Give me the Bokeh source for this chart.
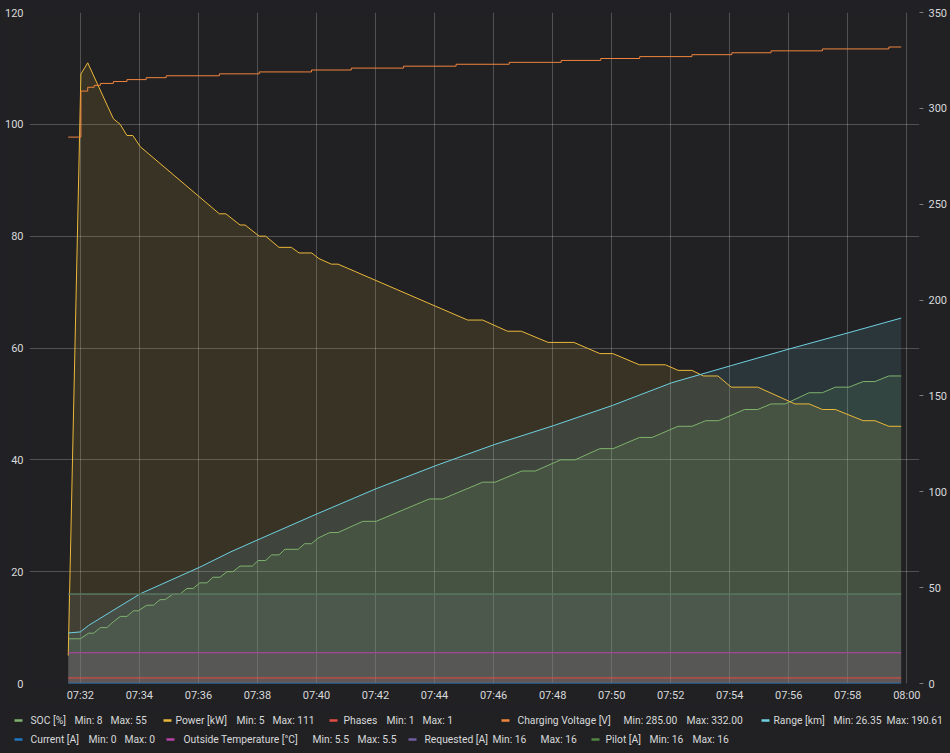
from bokeh.plotting import figure
from bokeh.models import Range1d, LinearAxis, FixedTicker
from bokeh.embed import file_html
from bokeh.resources import INLINE
from bokeh.core.properties import value

# ---------------- data (time = minutes after 07:30) ----------------
POWER_T = [1.59, 2.02, 2.25, 3.12, 3.35, 3.58, 3.78, 4.03, 6.71, 6.93, 7.41, 7.58, 8.06, 8.28, 8.73,
           9.15, 9.41, 9.84, 10.08, 10.50, 10.73, 15.12, 15.63, 16.47, 16.94, 17.85, 18.72, 19.60, 20.04,
           20.94, 21.82, 22.25, 22.72, 23.11, 23.60, 24.05, 24.95, 26.21, 26.69, 27.14, 27.58, 28.52,
           28.92, 29.39, 29.81]
POWER_KW = [5, 109, 111, 101, 100, 98, 98, 96, 84, 84, 82, 82, 80, 80, 78,
            78, 77, 77, 76, 75, 75, 65, 65, 63, 63, 61, 61, 59, 59,
            57, 57, 56, 56, 55, 55, 53, 53, 50, 50, 49, 49, 47,
            47, 46, 46]

SOC_T = [1.59, 2.00, 2.28, 2.45, 2.68, 2.90, 3.11, 3.35, 3.58, 3.80, 3.96, 4.25, 4.48, 4.70, 4.87,
         5.14, 5.38, 5.61, 5.82, 6.05, 6.29, 6.49, 6.73, 6.97, 7.17, 7.41, 7.83, 8.02, 8.28, 8.48,
         8.73, 8.93, 9.38, 9.60, 9.83, 10.05, 10.45, 10.73, 11.57, 12.02, 13.82, 14.27, 15.63, 16.05,
         16.96, 17.41, 18.27, 18.76, 19.60, 20.05, 20.94, 21.37, 22.25, 22.72, 23.19, 23.62, 24.50,
         24.95, 25.40, 25.88, 26.69, 27.14, 27.58, 28.04, 28.52, 28.92, 29.39, 29.81]
SOC_PCT = [8, 8, 9, 9, 10, 10, 11, 12, 12, 13, 13, 14, 14, 15, 15,
           16, 16, 17, 17, 18, 18, 19, 19, 20, 20, 21, 21, 22, 22, 23,
           23, 24, 24, 25, 25, 26, 27, 27, 29, 29, 33, 33, 36, 36,
           38, 38, 40, 40, 42, 42, 44, 44, 46, 46, 47, 47, 49,
           49, 50, 50, 52, 52, 53, 53, 54, 54, 55, 55]

RANGE_T = [1.59, 2.00, 2.28, 4.03, 6.05, 7.07, 8.02, 10.02, 12.02, 14.05, 16.04, 18.05, 20.02,
           22.04, 24.07, 26.04, 28.01, 29.81]
RANGE_KM = [26.35, 26.9, 30.3, 46.8, 60.7, 68.5, 75.0, 88.5, 101.6, 113.7, 124.7, 134.6, 145.0,
            156.9, 165.9, 174.6, 182.9, 190.61]

VOLT_T = [1.59, 2.02, 2.25, 2.47, 2.68, 3.12, 3.58, 4.23, 4.91, 6.71, 8.06, 9.83, 11.18, 12.95,
          14.73, 16.53, 18.29, 19.63, 20.95, 22.72, 24.07, 25.40, 27.14, 29.39, 29.81]
VOLT_V = [285, 309, 311, 312, 313, 314, 315, 316, 317, 318, 319, 320, 321, 322,
          323, 324, 325, 326, 327, 328, 329, 330, 331, 332, 332]

FLAT_T = [1.59, 29.81]
PHASES = [1, 1]
CURRENT_A = [0, 0]
OUTSIDE_TEMP_C = [5.5, 5.5]
REQUESTED_A = [16, 16]
PILOT_A = [16, 16]

X_TICKS = [2, 4, 6, 8, 10, 12, 14, 16, 18, 20, 22, 24, 26, 28, 30]
X_TICK_LABELS = ["07:32", "07:34", "07:36", "07:38", "07:40", "07:42", "07:44", "07:46",
                 "07:48", "07:50", "07:52", "07:54", "07:56", "07:58", "08:00"]
LEFT_TICKS = [0, 20, 40, 60, 80, 100, 120]
RIGHT_TICKS = [0, 50, 100, 150, 200, 250, 300, 350]

SERIES_NAMES = ["SOC [%]", "Power [kW]", "Phases", "Charging Voltage [V]", "Range [km]",
                "Current [A]", "Outside Temperature [°C]", "Requested [A]", "Pilot [A]"]

# ---------------- style / layout ----------------
BG = "#212124"
TXT = "#d8d9da"
FONT = "Roboto"
C_SOC = "#7EB26D"
C_POWER = "#EAB839"
C_PHASES = "#E24D42"
C_VOLT = "#EF843C"
C_RANGE = "#6ED0E0"
C_CURRENT = "#1F78C1"
C_TEMP = "#BA43A9"
C_REQ = "#705DA0"
C_PILOT = "#508642"
FILL_A = 0.12

W, H_MAIN, H_LEG = 950, 705, 47
FRAME_L, FRAME_R, FRAME_T, FRAME_B = 29, 922, 12, 683

p = figure(width=W, height=H_MAIN, x_range=Range1d(0.278, 30.429), y_range=Range1d(0, 120),
           output_backend="svg", toolbar_location=None,
           min_border_left=FRAME_L, min_border_right=W - FRAME_R,
           min_border_top=FRAME_T, min_border_bottom=H_MAIN - FRAME_B,
           background_fill_color=BG, border_fill_color=BG, outline_line_color=None)

# left axis
la = p.left[0]
la.ticker = FixedTicker(ticks=LEFT_TICKS)
la.axis_line_color = None
la.major_tick_line_color = None
la.minor_tick_line_color = None
la.major_tick_out = 0
la.major_tick_in = 0
la.major_label_standoff = 6
la.major_label_text_font = FONT
la.major_label_text_font_size = "11px"
la.major_label_text_color = TXT

# bottom axis
xa = p.below[0]
xa.ticker = FixedTicker(ticks=X_TICKS)
xa.major_label_overrides = dict(zip(X_TICKS, X_TICK_LABELS))
xa.axis_line_color = None
xa.major_tick_line_color = None
xa.minor_tick_line_color = None
xa.major_tick_out = 0
xa.major_tick_in = 0
xa.major_label_standoff = 5
xa.major_label_text_font = FONT
xa.major_label_text_font_size = "11px"
xa.major_label_text_color = TXT

# right axis
p.extra_y_ranges = {"right": Range1d(0, 350)}
ra = LinearAxis(y_range_name="right", ticker=FixedTicker(ticks=RIGHT_TICKS))
ra.axis_line_color = None
ra.major_tick_line_color = "#7c7c80"
ra.minor_tick_line_color = None
ra.major_tick_out = 4
ra.major_tick_in = 0
ra.major_label_standoff = 5
ra.major_label_text_font = FONT
ra.major_label_text_font_size = "11px"
ra.major_label_text_color = TXT
p.add_layout(ra, "right")

p.xgrid.ticker = FixedTicker(ticks=X_TICKS)
p.ygrid.ticker = FixedTicker(ticks=LEFT_TICKS)
p.grid.grid_line_color = "#ffffff"
p.grid.grid_line_alpha = 0.22

# fills
p.varea(x=SOC_T, y1=0, y2=SOC_PCT, fill_color=C_SOC, fill_alpha=FILL_A)
p.varea(x=POWER_T, y1=0, y2=POWER_KW, fill_color=C_POWER, fill_alpha=FILL_A)
p.varea(x=FLAT_T, y1=0, y2=PHASES, fill_color=C_PHASES, fill_alpha=FILL_A)
p.varea(x=RANGE_T, y1=0, y2=RANGE_KM, fill_color=C_RANGE, fill_alpha=FILL_A, y_range_name="right")
p.varea(x=FLAT_T, y1=0, y2=OUTSIDE_TEMP_C, fill_color=C_TEMP, fill_alpha=FILL_A)
p.varea(x=FLAT_T, y1=0, y2=REQUESTED_A, fill_color=C_REQ, fill_alpha=FILL_A)
p.varea(x=FLAT_T, y1=0, y2=PILOT_A, fill_color=C_PILOT, fill_alpha=FILL_A)

# lines
p.line(SOC_T, SOC_PCT, line_color=C_SOC, line_width=1)
p.line(POWER_T, POWER_KW, line_color=C_POWER, line_width=1)
p.line(FLAT_T, PHASES, line_color=C_PHASES, line_width=1)
p.step(VOLT_T, VOLT_V, mode="after", line_color=C_VOLT, line_width=1, y_range_name="right")
p.line(RANGE_T, RANGE_KM, line_color=C_RANGE, line_width=1, y_range_name="right")
p.line(FLAT_T, CURRENT_A, line_color=C_CURRENT, line_width=1.5)
p.line(FLAT_T, OUTSIDE_TEMP_C, line_color=C_TEMP, line_width=1)
p.line(FLAT_T, REQUESTED_A, line_color=C_REQ, line_width=1)
p.line(FLAT_T, PILOT_A, line_color=C_PILOT, line_width=1)

# ---------------- legend strip (separate figure, page-pixel coordinates) ----------------
series_vals = [SOC_PCT, POWER_KW, PHASES, VOLT_V, RANGE_KM, CURRENT_A, OUTSIDE_TEMP_C, REQUESTED_A, PILOT_A]
series_cols = [C_SOC, C_POWER, C_PHASES, C_VOLT, C_RANGE, C_CURRENT, C_TEMP, C_REQ, C_PILOT]
decimals = [0, 0, 0, 2, 2, 0, 1, 0, 0]
LEG_ROW = [0, 0, 0, 0, 0, 1, 1, 1, 1]
LEG_ROW_Y = [720, 739]
LEG_DASH_X = [14, 163, 329, 501, 761, 14, 166, 408, 591]
LEG_NAME_X = [30, 175, 343, 517, 773, 30, 183, 424, 605]
LEG_MIN_X = [74, 236, 386, 623, 833, 88, 312, 492, 649]
LEG_MAX_X = [110, 272, 422, 686, 886, 124, 357, 540, 692]

leg = figure(width=W, height=H_LEG, x_range=Range1d(0, W), y_range=Range1d(H_MAIN + H_LEG, H_MAIN),
             output_backend="svg", toolbar_location=None, min_border=0,
             x_axis_location=None, y_axis_location=None,
             background_fill_color=BG, border_fill_color=BG, outline_line_color=None)
leg.grid.visible = False

tx, ty, tt = [], [], []
for i, name in enumerate(SERIES_NAMES):
    y = LEG_ROW_Y[LEG_ROW[i]]
    d = decimals[i]
    mn = f"{min(series_vals[i]):.{d}f}"
    mx = f"{max(series_vals[i]):.{d}f}"
    leg.segment(x0=[LEG_DASH_X[i]], y0=[y], x1=[LEG_DASH_X[i] + 8], y1=[y],
                line_color=series_cols[i], line_width=2.5)
    tx += [LEG_NAME_X[i], LEG_MIN_X[i], LEG_MAX_X[i]]
    ty += [y, y, y]
    tt += [name, "Min: " + mn, "Max: " + mx]

leg.text(x=tx, y=ty, text=tt, text_font=value(FONT), text_font_size="10.3px",
         text_color=TXT, text_baseline="middle", text_align="left")

html = file_html([p, leg], INLINE)
html = html.replace("<body>", '<body style="margin:0;padding:0;overflow:hidden;background-color:%s;">' % BG, 1)
html = html.replace("</head>", "<style>html{background-color:%s;}</style></head>" % BG, 1)
open("out.html", "w").write(html)
